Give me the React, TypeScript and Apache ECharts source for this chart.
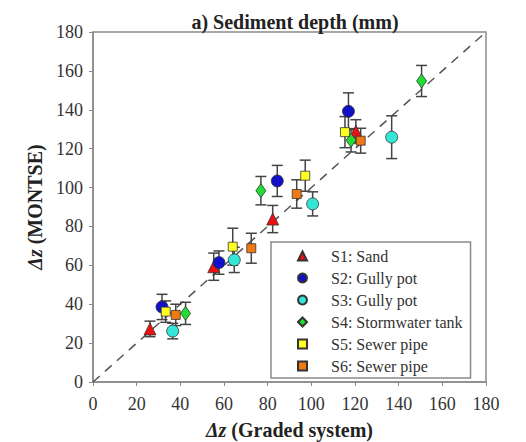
import React, { useEffect, useRef } from "react";
import * as echarts from "echarts";

const seriesNames = [
  "S1: Sand",
  "S2: Gully pot",
  "S3: Gully pot",
  "S4: Stormwater tank",
  "S5: Sewer pipe",
  "S6: Sewer pipe",
];

// [graded, montse, error]
const s1 = [[26.1, 27.3, 4], [55.3, 59.3, 7], [82.3, 83.8, 7], [120.4, 128.9, 6]];
const s2 = [[31.6, 38.6, 6.5], [57.7, 61.4, 6], [84.4, 103.4, 8], [117.0, 139.2, 9.5]];
const s3 = [[36.5, 26.2, 4], [64.7, 62.8, 6.5], [100.6, 91.6, 6.2], [136.8, 125.9, 11]];
const s4 = [[42.4, 35.3, 5.7], [76.9, 98.4, 7.3], [118.2, 124.3, 6], [150.5, 154.8, 8]];
const s5 = [[33.3, 36.2, 5.5], [64.0, 69.6, 9.5], [97.2, 106.1, 8], [115.4, 128.5, 8]];
const s6 = [[37.9, 34.5, 5.5], [72.5, 68.8, 7.7], [93.3, 96.7, 7.3], [122.6, 124.1, 6.4]];

const identityLine = [[0, 0], [180, 180]];

const FONT = "Liberation Serif";

export default function App() {
  const ref = useRef<HTMLDivElement>(null);

  useEffect(() => {
    if (!ref.current) return;
    const chart = echarts.init(ref.current, undefined, { renderer: "svg" });
    const all = [s1, s2, s3, s4, s5, s6];
    const colors = ["#ee1010", "#1010c8", "#33e6d6", "#22dd33", "#ffff22", "#f07a12"];
    const symbols = ["triangle", "circle", "circle", "diamond", "rect", "rect"];
    const sizes: any[] = [12, 12, 12, [10, 14], 9, 9];

    const errData = all.flat();

    const nameStyle = {
      fontFamily: FONT,
      fontWeight: "bold",
      fontSize: 20,
      color: "#222",
      rich: { i: { fontFamily: FONT, fontStyle: "italic", fontWeight: "bold", fontSize: 20, color: "#222" } },
    };

    const option: any = {
      animation: false,
      backgroundColor: "#ffffff",
      textStyle: { fontFamily: FONT },
      title: {
        text: "a) Sediment depth (mm)",
        left: 290,
        textAlign: "center",
        top: 7,
        textStyle: { fontFamily: FONT, fontWeight: "bold", fontSize: 20, color: "#222" },
      },
      grid: {
        left: 93,
        right: 40,
        top: 32,
        bottom: 60,
        show: true,
        borderColor: "#8a8a8a",
        borderWidth: 1.5,
        backgroundColor: "transparent",
        outerBoundsMode: "none",
        containLabel: false,
      },
      legend: {
        orient: "vertical",
        left: 271,
        top: 242,
        data: seriesNames.map((n, i) => ({
          name: n,
          icon: symbols[i],
        })),
        itemWidth: 9,
        itemHeight: 9,
        itemGap: 6,
        padding: [6, 8, 4, 26],
        borderColor: "#8a8a8a",
        borderWidth: 1.5,
        backgroundColor: "#fff",
        textStyle: { fontFamily: FONT, fontSize: 16, color: "#333", lineHeight: 14, padding: [0, 0, 0, 19] },
      },
      xAxis: {
        type: "value",
        min: 0,
        max: 180,
        interval: 20,
        name: "{i|Δz} (Graded system)",
        nameLocation: "middle",
        nameGap: 38,
        nameTextStyle: nameStyle,
        axisLine: { show: true, lineStyle: { color: "#8a8a8a", width: 1.5 } },
        axisTick: { show: true, inside: false, length: 4, lineStyle: { color: "#8a8a8a" } },
        axisLabel: { fontFamily: FONT, fontSize: 18, color: "#333", margin: 13 },
        splitLine: { show: false },
      },
      yAxis: {
        type: "value",
        min: 0,
        max: 180,
        interval: 20,
        name: "{i|Δz} (MONTSE)",
        nameLocation: "middle",
        nameGap: 44,
        nameRotate: 90,
        nameTextStyle: nameStyle,
        axisLine: { show: true, lineStyle: { color: "#8a8a8a", width: 1.5 } },
        axisTick: { show: true, inside: false, length: 4, lineStyle: { color: "#8a8a8a" } },
        axisLabel: { fontFamily: FONT, fontSize: 18, color: "#333", margin: 10 },
        splitLine: { show: false },
      },
      series: [
        {
          type: "line",
          data: identityLine,
          symbol: "none",
          silent: true,
          lineStyle: { color: "#555", width: 1.5, type: [9, 7] },
          z: 1,
        },
        {
          type: "custom",
          data: errData,
          encode: { x: 0, y: 1 },
          z: 2,
          silent: true,
          renderItem: (params: any, api: any) => {
            const x = api.value(0);
            const y = api.value(1);
            const e = api.value(2);
            const top = api.coord([x, y + e]);
            const bot = api.coord([x, y - e]);
            const hw = 5.5;
            const style = { stroke: "#444", lineWidth: 1.5 };
            return {
              type: "group",
              children: [
                { type: "line", shape: { x1: top[0], y1: top[1], x2: bot[0], y2: bot[1] }, style },
                { type: "line", shape: { x1: top[0] - hw, y1: top[1], x2: top[0] + hw, y2: top[1] }, style },
                { type: "line", shape: { x1: bot[0] - hw, y1: bot[1], x2: bot[0] + hw, y2: bot[1] }, style },
              ],
            };
          },
        },
        ...all.map((d, i) => ({
          type: "scatter",
          name: seriesNames[i],
          data: d.map((p) => [p[0], p[1]]),
          symbol: symbols[i],
          symbolSize: sizes[i],
          z: 3,
          itemStyle: { color: colors[i], borderColor: "#333", borderWidth: 0.8, opacity: 1 },
        })),
      ],
    };
    chart.setOption(option);
    return () => chart.dispose();
  }, []);

  return (
    <div
      ref={ref}
      style={{ position: "absolute", left: 0, top: 0, width: 526, height: 442 }}
    />
  );
}
